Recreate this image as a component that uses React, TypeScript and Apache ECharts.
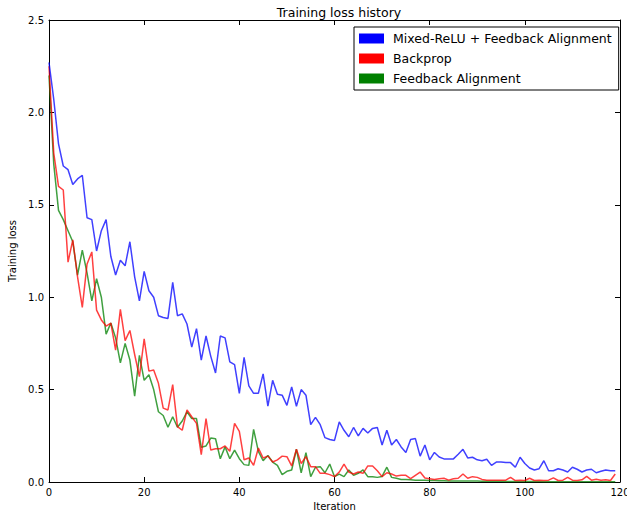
import React, { useEffect, useRef } from "react";
import * as echarts from "echarts";

const seriesNames = ["Mixed-ReLU + Feedback Alignment", "Backprop", "Feedback Alignment"];
const seriesColors = ["#0000ff", "#ff0000", "#008000"];
const xTicks = [0, 20, 40, 60, 80, 100, 120];
const yTicks = ["0.0", "0.5", "1.0", "1.5", "2.0", "2.5"];

const mixedLoss = [
  2.27, 2.07, 1.83, 1.71, 1.69, 1.61, 1.64, 1.66, 1.43, 1.42,
  1.25, 1.36, 1.42, 1.22, 1.12, 1.2, 1.17, 1.3, 1.11, 0.98,
  1.14, 1.035, 1.0, 0.9, 0.89, 0.885, 1.08, 0.9, 0.91, 0.855,
  0.73, 0.83, 0.66, 0.79, 0.68, 0.59, 0.79, 0.78, 0.65, 0.635,
  0.48, 0.675, 0.52, 0.48, 0.48, 0.585, 0.41, 0.55, 0.475, 0.47,
  0.415, 0.515, 0.41, 0.5, 0.47, 0.31, 0.35, 0.31, 0.24, 0.23,
  0.225, 0.325, 0.28, 0.245, 0.295, 0.25, 0.29, 0.265, 0.29, 0.295,
  0.2, 0.28, 0.2, 0.23, 0.19, 0.16, 0.23, 0.235, 0.14, 0.2,
  0.12, 0.16, 0.135, 0.125, 0.125, 0.125, 0.15, 0.177, 0.13, 0.134,
  0.12, 0.115, 0.123, 0.09, 0.108, 0.108, 0.105, 0.105, 0.08, 0.134,
  0.1, 0.076, 0.065, 0.072, 0.115, 0.061, 0.061, 0.072, 0.065, 0.054,
  0.08, 0.069, 0.054, 0.065, 0.069, 0.05, 0.058, 0.065, 0.061, 0.061,
];

const backpropLoss = [
  2.25, 1.78, 1.6, 1.58, 1.19, 1.31, 1.11, 0.945, 1.18, 1.245,
  0.93, 0.877, 0.844, 0.86, 0.714, 0.934, 0.765, 0.82, 0.69, 0.57,
  0.775, 0.6, 0.606, 0.534, 0.4, 0.39, 0.527, 0.3, 0.28, 0.39,
  0.353, 0.317, 0.148, 0.343, 0.173, 0.18, 0.18, 0.195, 0.166, 0.317,
  0.274, 0.12, 0.13, 0.09, 0.184, 0.13, 0.14, 0.108, 0.12, 0.14,
  0.137, 0.087, 0.177, 0.1, 0.137, 0.083, 0.083, 0.047, 0.047, 0.04,
  0.029, 0.054, 0.097, 0.054, 0.043, 0.054, 0.047, 0.087, 0.087, 0.061,
  0.029, 0.05, 0.043, 0.032, 0.036, 0.036, 0.018, 0.036, 0.054, 0.022,
  0.018, 0.014, 0.018, 0.02, 0.01, 0.018, 0.02, 0.043, 0.02, 0.029,
  0.025, 0.014, 0.01, 0.01, 0.01, 0.01, 0.01, 0.025, 0.008, 0.01,
  0.008, 0.02, 0.008, 0.01, 0.008, 0.01, 0.022, 0.008, 0.01, 0.025,
  0.01, 0.008, 0.012, 0.03, 0.01, 0.015, 0.01, 0.012, 0.008, 0.043,
];

const feedbackLoss = [
  2.2, 1.72, 1.47, 1.42, 1.36, 1.3, 1.12, 1.255, 1.13, 0.98,
  1.1, 1.0, 0.8, 0.86, 0.78, 0.645, 0.75, 0.66, 0.465, 0.685,
  0.55, 0.58, 0.5, 0.38, 0.36, 0.296, 0.353, 0.296, 0.33, 0.38,
  0.343, 0.343, 0.188, 0.195, 0.238, 0.234, 0.126, 0.19, 0.126, 0.173,
  0.126, 0.094, 0.09, 0.285, 0.166, 0.115, 0.144, 0.108, 0.09, 0.04,
  0.058, 0.065, 0.177, 0.05, 0.159, 0.029, 0.08, 0.083, 0.05, 0.097,
  0.029, 0.043, 0.029, 0.065, 0.036, 0.047, 0.065, 0.029, 0.029, 0.025,
  0.03, 0.08, 0.025, 0.02, 0.014, 0.014, 0.012, 0.01, 0.01, 0.009,
  0.008, 0.008, 0.007, 0.007, 0.006, 0.006, 0.006, 0.005, 0.005, 0.005,
  0.005, 0.004, 0.004, 0.004, 0.004, 0.004, 0.003, 0.003, 0.003, 0.003,
  0.003, 0.003, 0.003, 0.003, 0.002, 0.002, 0.002, 0.002, 0.002, 0.002,
  0.002, 0.002, 0.002, 0.002, 0.002, 0.002, 0.002, 0.002, 0.002, 0.002,
];

const FONT = "DejaVu Sans";

export default function App() {
  const ref = useRef<HTMLDivElement>(null);
  useEffect(() => {
    if (!ref.current) return;
    const chart = echarts.init(ref.current, undefined, { renderer: "svg" });
    const allData = [mixedLoss, backpropLoss, feedbackLoss];
    const tickCommon = {
      axisLine: { show: true, onZero: false, lineStyle: { color: "#000", width: 1 } },
      axisTick: { show: true, inside: true, length: 5, lineStyle: { color: "#000", width: 1 } },
      splitLine: { show: false },
    };
    chart.setOption({
      animation: false,
      backgroundColor: "#fff",
      title: {
        text: "Training loss history",
        left: 334,
        textAlign: "center",
        top: 1,
        textStyle: { fontFamily: FONT, fontSize: 12.5, fontWeight: "normal", color: "#000" },
      },
      grid: { left: 49, right: 7, top: 20, bottom: 29, show: false, outerBoundsMode: "none", containLabel: false },
      legend: {
        orient: "vertical",
        left: 354,
        top: 27,
        backgroundColor: "#fff",
        borderColor: "#000",
        borderWidth: 1,
        borderRadius: 0,
        padding: [5, 7, 5, 5],
        itemWidth: 25,
        itemHeight: 10,
        itemGap: 7,
        icon: "rect",
        data: seriesNames,
        textStyle: { fontFamily: FONT, fontSize: 12.5, color: "#000", padding: [0, 0, 0, 4] },
      },
      xAxis: [
        {
          type: "value",
          min: 0,
          max: 120,
          interval: 20,
          position: "bottom",
          name: "Iteration",
          nameLocation: "middle",
          nameGap: 18,
          nameTextStyle: { fontFamily: FONT, fontSize: 10, color: "#000" },
          axisLabel: {
            fontFamily: FONT,
            fontSize: 10,
            color: "#000",
            margin: 5,
            formatter: (v: number) => (xTicks.includes(v) ? String(v) : ""),
          },
          ...tickCommon,
        },
        {
          type: "value",
          min: 0,
          max: 120,
          interval: 20,
          position: "top",
          axisLabel: { show: false },
          ...tickCommon,
        },
      ],
      yAxis: [
        {
          type: "value",
          min: 0,
          max: 2.5,
          interval: 0.5,
          position: "left",
          name: "Training loss",
          nameLocation: "middle",
          nameGap: 24,
          nameTextStyle: { fontFamily: FONT, fontSize: 10, color: "#000" },
          axisLabel: {
            fontFamily: FONT,
            fontSize: 10,
            color: "#000",
            margin: 5,
            formatter: (v: number) => yTicks[Math.round(v / 0.5)] ?? "",
          },
          ...tickCommon,
        },
        {
          type: "value",
          min: 0,
          max: 2.5,
          interval: 0.5,
          position: "right",
          axisLabel: { show: false },
          ...tickCommon,
        },
      ],
      series: seriesNames.map((name, k) => ({
        name,
        type: "line",
        xAxisIndex: 0,
        yAxisIndex: 0,
        showSymbol: false,
        symbol: "none",
        clip: true,
        color: seriesColors[k],
        itemStyle: { color: seriesColors[k] },
        lineStyle: { color: seriesColors[k], width: 1.5, opacity: 0.75 },
        data: allData[k].map((v, i) => [i, v]),
        z: 3 - k,
      })),
    });
    return () => chart.dispose();
  }, []);
  return (
    <div
      ref={ref}
      style={{ position: "fixed", left: 0, top: 0, width: 627, height: 511, background: "#fff" }}
    />
  );
}
